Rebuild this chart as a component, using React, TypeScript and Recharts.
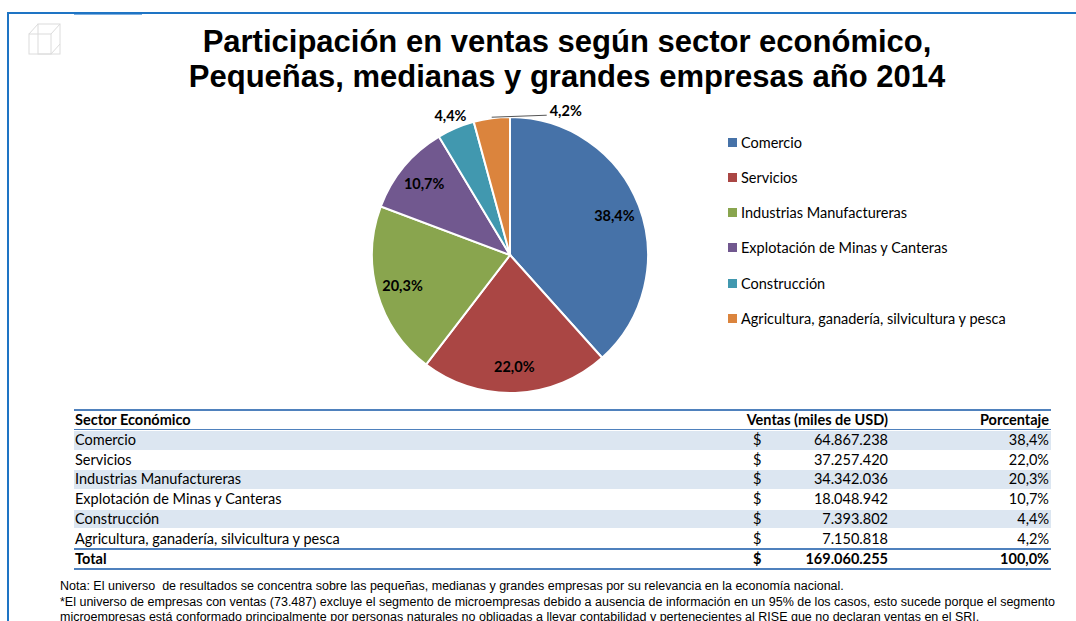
import { PieChart, Pie, Cell } from "recharts";

const sectors = [
  "Comercio",
  "Servicios",
  "Industrias Manufactureras",
  "Explotación de Minas y Canteras",
  "Construcción",
  "Agricultura, ganadería, silvicultura y pesca",
];
const ventas = [64867238, 37257420, 34342036, 18048942, 7393802, 7150818];
const porcentajes = ["38,4%", "22,0%", "20,3%", "10,7%", "4,4%", "4,2%"];
const totalVentas = 169060255;
const totalPct = "100,0%";
const colors = ["#4672A8", "#AA4644", "#89A54E", "#71588F", "#4198AF", "#DB843D"];

const fmt = (n: number) => n.toString().replace(/\B(?=(\d{3})+(?!\d))/g, ".");

const CAL = "Lato, 'Open Sans', sans-serif";
const ARIAL = "'Liberation Sans', Arial, sans-serif";

const RADIAN = Math.PI / 180;

function renderLabel(props: any) {
  const { cx, cy, midAngle, outerRadius, index } = props;
  const cos = Math.cos(-midAngle * RADIAN);
  const sin = Math.sin(-midAngle * RADIAN);
  const style = { fontFamily: CAL, fontWeight: 700, fontSize: 14.5, fill: "#000" };
  if (index < 4) {
    const r = outerRadius * 0.81;
    return (
      <text x={cx + r * cos} y={cy + r * sin} textAnchor="middle" dominantBaseline="central" style={style}>
        {porcentajes[index]}
      </text>
    );
  }
  if (index === 4) {
    const r = outerRadius * 1.1;
    return (
      <text x={cx + r * cos} y={cy + r * sin} textAnchor="middle" dominantBaseline="central" style={style}>
        {porcentajes[index]}
      </text>
    );
  }
  const sx = cx + outerRadius * cos;
  const sy = cy + outerRadius * sin;
  return (
    <g>
      <polyline points={`${sx},${sy - 1} ${sx + 55},${sy - 3}`} stroke="#555" fill="none" strokeWidth={1} />
      <text x={sx + 58} y={sy - 8} textAnchor="start" dominantBaseline="central" style={style}>
        {porcentajes[index]}
      </text>
    </g>
  );
}

export default function App() {
  const data = sectors.map((s, i) => ({ name: s, value: ventas[i] }));
  const rowTop = 431;
  const rowH = 19.7;
  return (
    <div style={{ position: "absolute", left: 0, top: 0, width: 1076, height: 621, background: "#fff", overflow: "hidden" }}>
      {/* frame */}
      <div style={{ position: "absolute", left: 7, top: 12, width: 1069, height: 2, background: "#1E74C4" }} />
      <div style={{ position: "absolute", left: 7, top: 12, width: 2, height: 609, background: "#1E74C4" }} />
      <div style={{ position: "absolute", left: 74, top: 14, width: 68, height: 1, background: "#7FB0E0" }} />
      <svg style={{ position: "absolute", left: 26, top: 14 }} width={40} height={44}>
        <g stroke="#dcdcdc" fill="none" strokeWidth={1}>
          <rect x={12} y={10} width={22} height={30} />
          <rect x={3} y={20} width={22} height={20} />
          <line x1={3} y1={20} x2={12} y2={10} />
          <line x1={25} y1={20} x2={34} y2={10} />
          <line x1={25} y1={40} x2={34} y2={30} />
        </g>
      </svg>

      <div
        style={{
          position: "absolute",
          left: 0,
          top: 24,
          width: 1134,
          textAlign: "center",
          fontFamily: ARIAL,
          fontWeight: 700,
          fontSize: 31,
          lineHeight: "35px",
          color: "#000",
        }}
      >
        Participación en ventas según sector económico,
        <br />
        Pequeñas, medianas y grandes empresas año 2014
      </div>

      <div style={{ position: "absolute", left: 0, top: 0 }}>
        <PieChart width={1076} height={420} margin={{ top: 0, right: 0, bottom: 0, left: 0 }}>
          <Pie
            data={data}
            dataKey="value"
            nameKey="name"
            cx={510}
            cy={255}
            outerRadius={138}
            startAngle={90}
            endAngle={-270}
            stroke="#fff"
            strokeWidth={2}
            label={renderLabel}
            labelLine={false}
            isAnimationActive={false}
          >
            {data.map((_, i) => (
              <Cell key={i} fill={colors[i]} />
            ))}
          </Pie>
        </PieChart>
      </div>

      {/* legend */}
      {sectors.map((s, i) => (
        <div
          key={s}
          style={{
            position: "absolute",
            left: 728,
            top: 133 + i * 35.3,
            height: 18,
            display: "flex",
            alignItems: "center",
            fontFamily: CAL,
            fontSize: 14.5,
            color: "#000",
            whiteSpace: "nowrap",
          }}
        >
          <span style={{ display: "inline-block", width: 9, height: 9, background: colors[i], marginRight: 4 }} />
          {s}
        </div>
      ))}

      {/* table */}
      <div style={{ position: "absolute", left: 74, top: 409, width: 977, height: 2, background: "#4F81BD" }} />
      <div style={{ position: "absolute", left: 74, top: 429, width: 977, height: 1, background: "#4F81BD" }} />
      <div style={{ position: "absolute", left: 74, top: 548, width: 977, height: 2, background: "#4F81BD" }} />
      <div style={{ position: "absolute", left: 74, top: 568, width: 977, height: 2, background: "#4F81BD" }} />
      {[
        { t: 411, label: "Sector Económico", d: "", v: "Ventas (miles de USD)", p: "Porcentaje", bold: true, shade: false },
        ...sectors.map((s, i) => ({
          t: rowTop + i * rowH,
          label: s,
          d: "$",
          v: fmt(ventas[i]),
          p: porcentajes[i],
          bold: false,
          shade: i % 2 === 0,
        })),
        { t: 550, label: "Total", d: "$", v: fmt(totalVentas), p: totalPct, bold: true, shade: false },
      ].map((r, i) => (
        <div
          key={i}
          style={{
            position: "absolute",
            left: 74,
            top: r.t,
            width: 977,
            height: 18.5,
            background: r.shade ? "#DCE6F1" : "transparent",
            fontFamily: CAL,
            fontSize: 14.5,
            fontWeight: r.bold ? 700 : 400,
            lineHeight: "18.5px",
            color: "#000",
          }}
        >
          <span style={{ position: "absolute", left: 1, whiteSpace: "nowrap" }}>{r.label}</span>
          <span style={{ position: "absolute", left: 679 }}>{r.d}</span>
          <span style={{ position: "absolute", right: 163, whiteSpace: "nowrap" }}>{r.v}</span>
          <span style={{ position: "absolute", right: 2 }}>{r.p}</span>
        </div>
      ))}

      {/* notes */}
      <div
        style={{
          position: "absolute",
          left: 60,
          top: 579,
          width: 1000,
          fontFamily: "'Liberation Sans Narrow', 'Arial Narrow', sans-serif",
          fontSize: 12.5,
          lineHeight: "15.5px",
          color: "#000",
        }}
      >
        Nota: El universo&nbsp; de resultados se concentra sobre las pequeñas, medianas y grandes empresas por su relevancia en la economía nacional.
        <br />
        *El universo de empresas con ventas (73.487) excluye el segmento de microempresas debido a ausencia de información en un 95% de los casos, esto sucede porque el segmento
        <br />
        microempresas está conformado principalmente por personas naturales no obligadas a llevar contabilidad y pertenecientes al RISE que no declaran ventas en el SRI.
      </div>
    </div>
  );
}
